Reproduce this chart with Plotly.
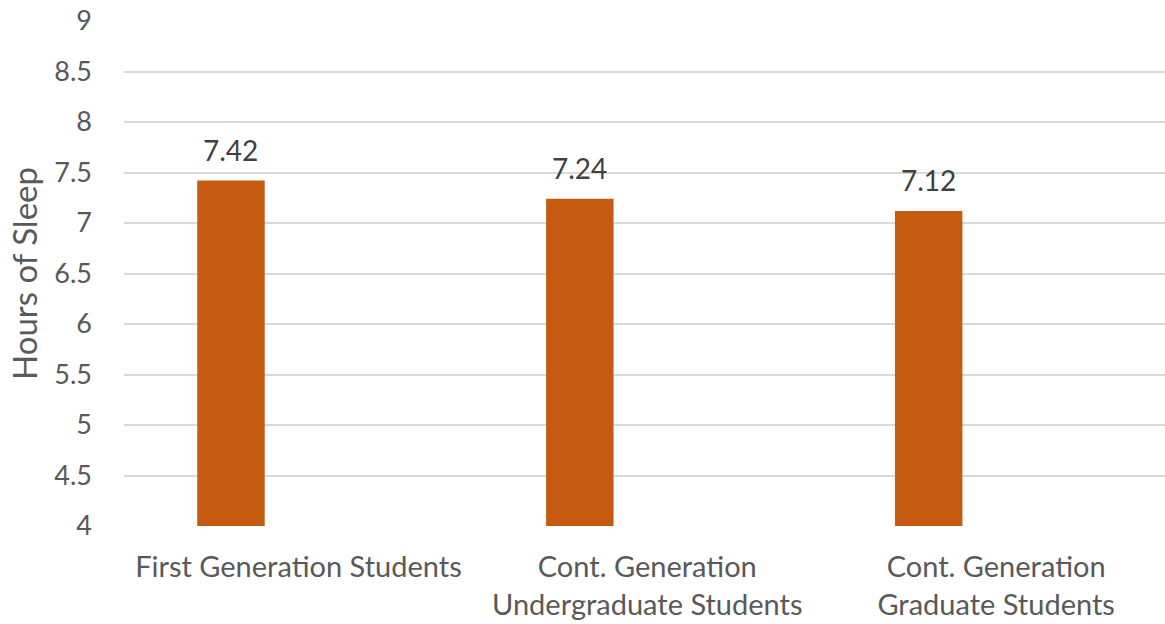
import plotly.graph_objects as go

categories = ["First Generation Students",
              "Cont. Generation<br>Undergraduate Students",
              "Cont. Generation<br>Graduate Students"]
values = [7.42, 7.24, 7.12]
value_labels = ["7.42", "7.24", "7.12"]
y_ticks = [4, 4.5, 5, 5.5, 6, 6.5, 7, 7.5, 8, 8.5, 9]
y_tick_labels = ["4", "4.5", "5", "5.5", "6", "6.5", "7", "7.5", "8", "8.5", "9"]

FONT = "Lato, Open Sans, sans-serif"
BAR_W = 0.1934
idx = list(range(len(categories)))
centers = [i - BAR_W for i in idx]

fig = go.Figure()
fig.add_trace(go.Bar(
    x=idx, y=values, width=BAR_W, offset=-1.5 * BAR_W,
    marker=dict(color="#C55A11", line=dict(width=0)),
    base=0, hoverinfo="skip",
))

for cx, v, t in zip(centers, values, value_labels):
    fig.add_annotation(x=cx, y=v, text=t, showarrow=False, yanchor="bottom",
                       yshift=12, font=dict(family=FONT, size=28, color="#404040"))

fig.update_layout(
    width=1165, height=624,
    margin=dict(l=123.5, r=0, t=21, b=98),
    paper_bgcolor="white", plot_bgcolor="white",
    showlegend=False,
    font=dict(family=FONT, size=27, color="#595959"),
)
fig.update_xaxes(
    range=[-0.5, 2.484], tickvals=idx, ticktext=categories,
    showgrid=False, zeroline=False, showline=False, ticks="",
    tickfont=dict(family=FONT, size=29, color="#595959"),
    ticklabelstandoff=21,
)
fig.update_yaxes(
    range=[4, 9], tickvals=y_ticks, ticktext=y_tick_labels,
    showgrid=True, gridcolor="#D9D9D9", gridwidth=1.5,
    zeroline=False, showline=False, ticks="",
    tickfont=dict(family=FONT, size=27, color="#595959"),
    ticklabelstandoff=31,
    title=dict(text="Hours of Sleep", font=dict(family=FONT, size=33, color="#595959"), standoff=6),
)

fig.write_html("out.html")
